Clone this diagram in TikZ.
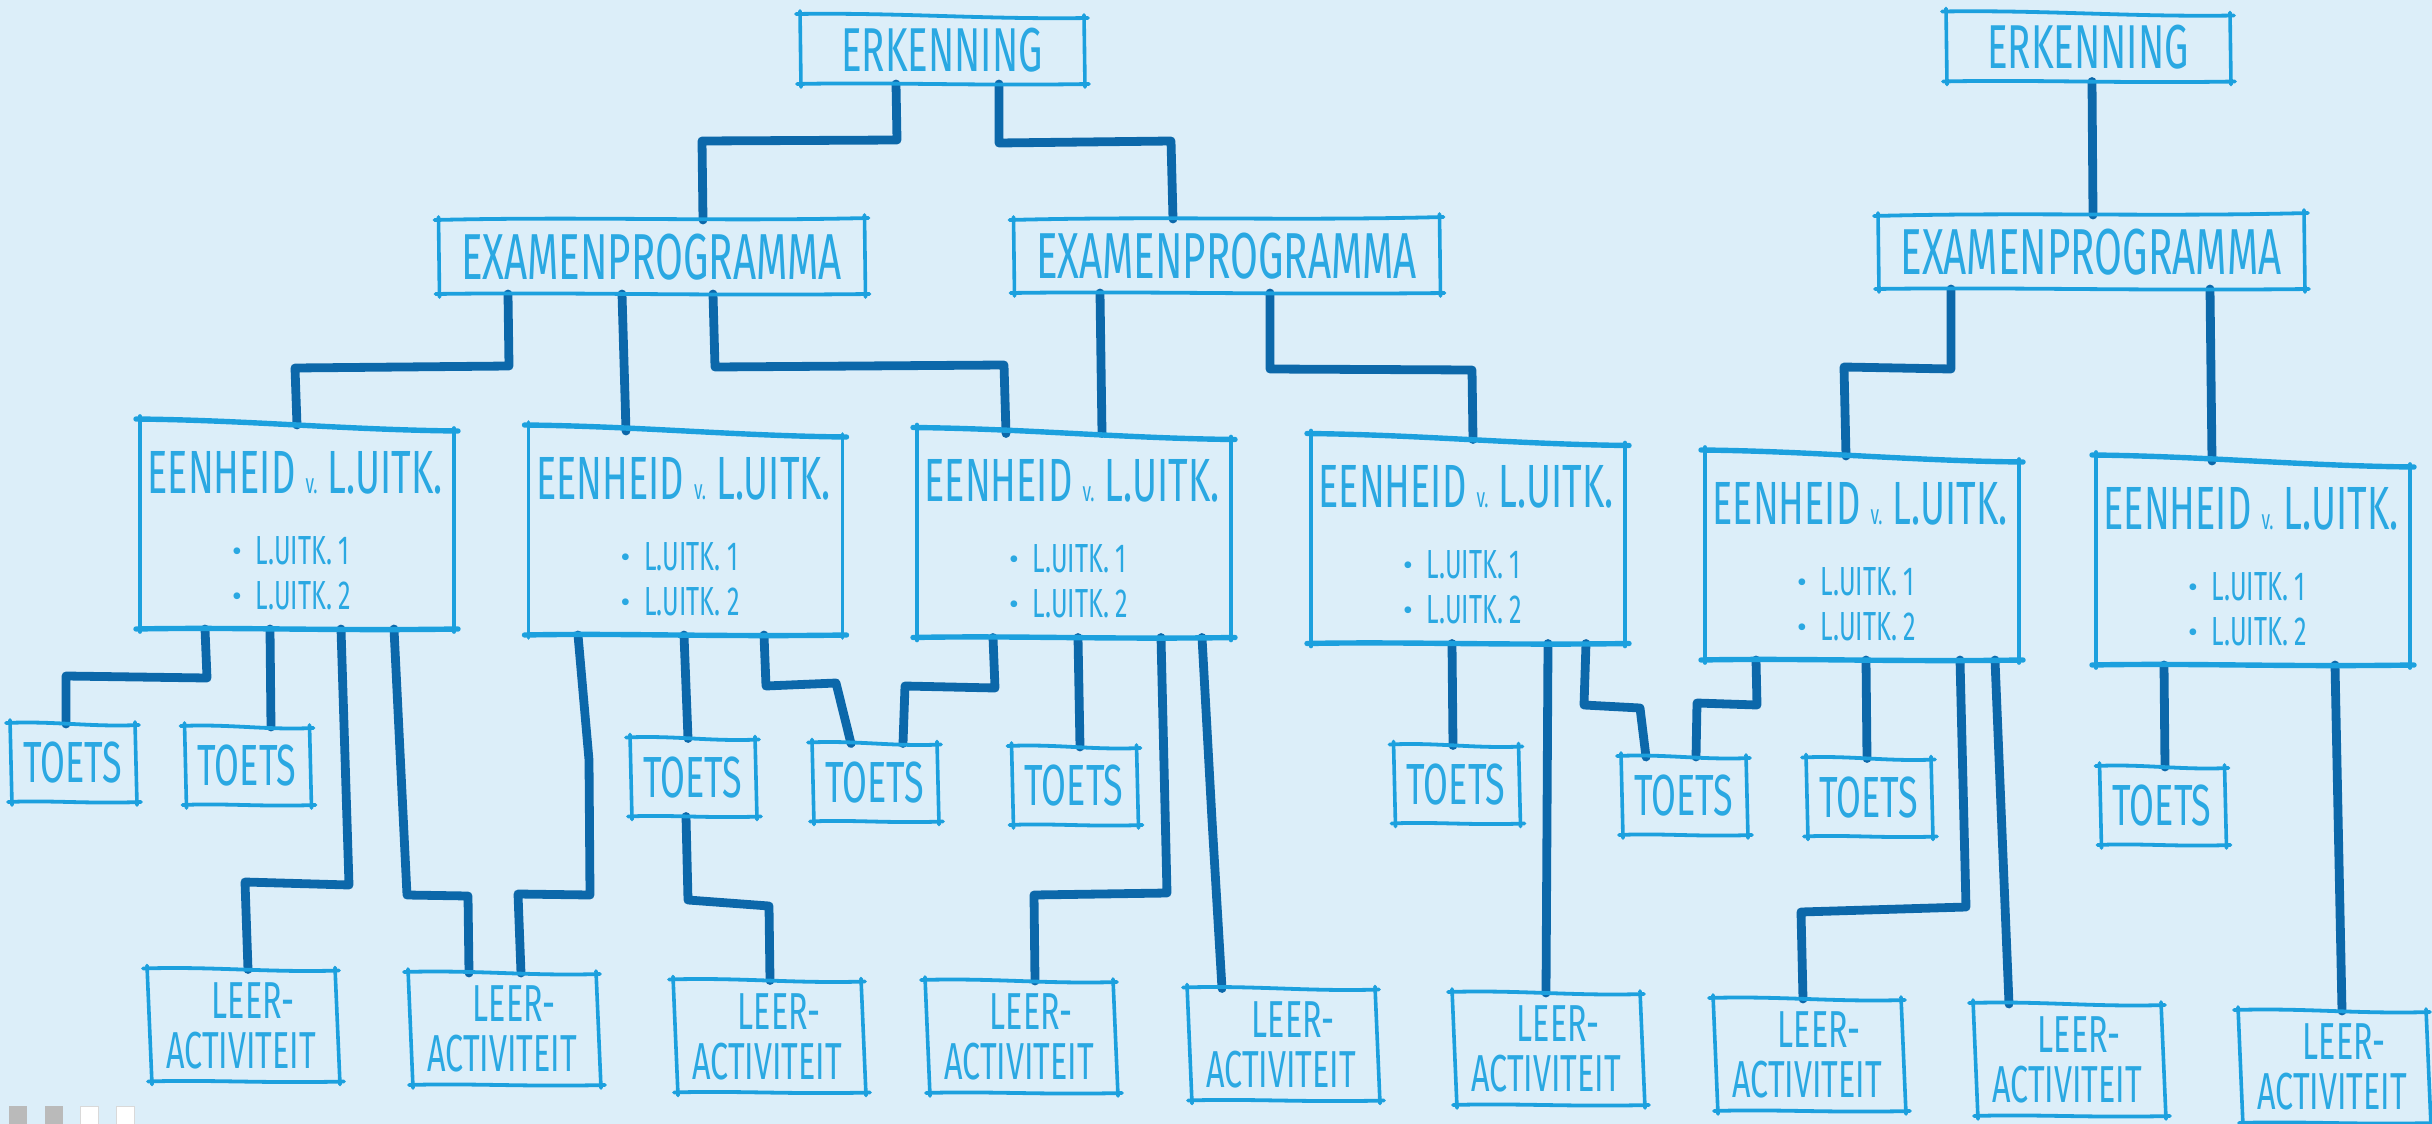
\documentclass[tikz,border=0pt]{standalone}
\usepackage{fontspec}
\usetikzlibrary{calc}
\newfontfamily\hand[FakeStretch=0.62]{Fira Sans}
\newfontfamily\plain{Fira Sans}
\definecolor{bg}{RGB}{220,238,249}
\definecolor{boxcol}{RGB}{28,160,222}
\definecolor{inkcol}{RGB}{42,168,226}
\definecolor{conncol}{RGB}{12,104,170}

\tikzset{
  x=0.5pt, y=-0.5pt,
  base/.style={inner sep=0pt, outer sep=0pt, text=inkcol, align=center},
  erkbox/.style={base, minimum width=142pt, minimum height=34pt, font=\hand\fontsize{31}{31}\selectfont},
  exambox/.style={base, minimum width=213pt, minimum height=37pt, font=\hand\fontsize{32.5}{32.5}\selectfont},
  unitbox/.style={base, minimum width=157pt, minimum height=102pt},
  utitle/.style={base, font=\hand\fontsize{30.5}{30.5}\selectfont},
  ubullet/.style={base, font=\hand\fontsize{20.3}{20.3}\selectfont},
  toetsbox/.style={base, minimum width=62.5pt, minimum height=39pt, font=\hand\fontsize{29}{29}\selectfont},
  leerbox/.style={base, minimum width=94pt, minimum height=56pt, font=\hand\fontsize{26}{25}\selectfont},
  edgeh/.style={draw=boxcol, line width=1.9pt, line cap=round},
  edgev/.style={draw=boxcol, line width=1.8pt, line cap=round},
  conn/.style={draw=conncol, line width=4.4pt, line cap=round, line join=round},
}

% hand-drawn outline around a node: #2/#3 lift of the top corners, #4 lean of the bottom edge
\newcommand\skbox[4]{%
  \coordinate (#1-a) at ([shift={(0,#2)}]#1.north west);
  \coordinate (#1-b) at ([shift={(0,#3)}]#1.north east);
  \coordinate (#1-c) at ([shift={(#4,0)}]#1.south east);
  \coordinate (#1-d) at ([shift={(#4,0)}]#1.south west);
  \draw[edgeh] ([shift={(-4,0)}]#1-a) .. controls ($(#1-a)!0.35!(#1-b)+(0,-3)$) and ($(#1-a)!0.65!(#1-b)+(0,3)$) .. ([shift={(4,0)}]#1-b);
  \draw[edgev] ([shift={(0,-3)}]#1-b) -- ([shift={(0,3)}]#1-c);
  \draw[edgeh] ([shift={(4,0)}]#1-c) .. controls ($(#1-c)!0.4!(#1-d)+(0,2)$) and ($(#1-c)!0.7!(#1-d)+(0,-2)$) .. ([shift={(-4,0)}]#1-d);
  \draw[edgev] ([shift={(0,3)}]#1-d) -- ([shift={(0,-3)}]#1-a);
}

% unit box with its title and two bullet lines
\newcommand\unitnode[2]{%
  \node[unitbox] (#1) at (#2) {};
  \node[utitle, anchor=base] (#1-t) at ([shift={(-2,68)}]#1.north) {EENHEID\,{\fontsize{14}{14}\selectfont v.}\,L.UITK.};
  \node[ubullet, anchor=base west] (#1-p) at ([shift={(92,139)}]#1.north west) {\raisebox{1.5pt}{\plain\fontsize{15}{15}\selectfont\textbullet}\hspace{7pt}L.UITK. 1};
  \node[ubullet, anchor=base west] (#1-q) at ([shift={(92,184)}]#1.north west) {\raisebox{1.5pt}{\plain\fontsize{15}{15}\selectfont\textbullet}\hspace{7pt}L.UITK. 2};
}

\begin{document}
\begin{tikzpicture}
\fill[bg] (0,0) rectangle (2432,1124);
\useasboundingbox (0,0) rectangle (2432,1124);

% top level
\node[erkbox] (E1) at (942,50) {ERKENNING};
\node[erkbox] (E2) at (2088,47.5) {ERKENNING};

% exam programmes
\node[exambox] (X1) at (651.5,257) {EXAMENPROGRAMMA};
\node[exambox] (X2) at (1226.5,256) {EXAMENPROGRAMMA};
\node[exambox] (X3) at (2091,252) {EXAMENPROGRAMMA};

% units of learning outcomes
\unitnode{U1}{297,527}
\unitnode{U2}{685.5,533}
\unitnode{U3}{1074,535.5}
\unitnode{U4}{1468,541.5}
\unitnode{U5}{1862,558}
\unitnode{U6}{2253,563}

% tests
\node[toetsbox] (T1) at (72.5,763) {TOETS};
\node[toetsbox] (T2) at (247,766) {TOETS};
\node[toetsbox] (T3) at (692.5,777.5) {TOETS};
\node[toetsbox] (T4) at (874.5,782.5) {TOETS};
\node[toetsbox] (T5) at (1074,786) {TOETS};
\node[toetsbox] (T6) at (1456,784.5) {TOETS};
\node[toetsbox] (T7) at (1683.5,796) {TOETS};
\node[toetsbox] (T8) at (1868.5,797.5) {TOETS};
\node[toetsbox] (T9) at (2162,806) {TOETS};

% learning activities
\node[leerbox] (L1) at (241,1025.5) {\hspace*{12pt}LEER-\\ACTIVITEIT};
\node[leerbox] (L2) at (502,1029) {\hspace*{12pt}LEER-\\ACTIVITEIT};
\node[leerbox] (L3) at (767,1036.5) {\hspace*{12pt}LEER-\\ACTIVITEIT};
\node[leerbox] (L4) at (1019,1037) {\hspace*{12pt}LEER-\\ACTIVITEIT};
\node[leerbox] (L5) at (1281,1044.5) {\hspace*{12pt}LEER-\\ACTIVITEIT};
\node[leerbox] (L6) at (1546,1049) {\hspace*{12pt}LEER-\\ACTIVITEIT};
\node[leerbox] (L7) at (1807,1055) {\hspace*{12pt}LEER-\\ACTIVITEIT};
\node[leerbox] (L8) at (2067,1060) {\hspace*{12pt}LEER-\\ACTIVITEIT};
\node[leerbox] (L9) at (2332,1067) {\hspace*{12pt}LEER-\\ACTIVITEIT};

% connectors
\draw[conn] (E1.south -| 896,0) -- (897,140) -- (702,141) -- (X1.north -| 703,0);
\draw[conn] (E1.south -| 999,0) -- (999,143) -- (1171,141) -- (X2.north -| 1173,0);
\draw[conn] (E2.south -| 2092,0) -- (X3.north -| 2093,0);

\draw[conn] (X1.south -| 508,0) -- (509,366) -- (295,368) -- (U1.north -| 297,0);
\draw[conn] (X1.south -| 622,0) -- (U2.north -| 626,0);
\draw[conn] (X1.south -| 713,0) -- (715,367) -- (1004,365) -- (U3.north -| 1006,0);
\draw[conn] (X2.south -| 1100,0) -- (U3.north -| 1102,0);
\draw[conn] (X2.south -| 1270,0) -- (1270,369) -- (1472,370) -- (U4.north -| 1473,0);
\draw[conn] (X3.south -| 1951,0) -- (1951,369) -- (1844,367) -- (U5.north -| 1846,0);
\draw[conn] (X3.south -| 2210,0) -- (U6.north -| 2212,0);

\draw[conn] (U1.south -| 205,0) -- (207,678) -- (66,676) -- (T1.north -| 66,0);
\draw[conn] (U1.south -| 270,0) -- (T2.north -| 271,0);
\draw[conn] (U1.south -| 341,0) -- (349,885) -- (245,882) -- (L1.north -| 248,0);
\draw[conn] (U1.south -| 394,0) -- (407,895) -- (468,896) -- (L2.north -| 469,0);

\draw[conn] (U2.south -| 578,0) -- (589,760) -- (590,895) -- (518,894) -- (L2.north -| 521,0);
\draw[conn] (U2.south -| 684,0) -- (T3.north -| 688,0);
\draw[conn] (U2.south -| 764,0) -- (766,686) -- (836,683) -- (T4.north -| 851,0);
\draw[conn] (T3.south -| 686,0) -- (688,900) -- (769,906) -- (L3.north -| 770,0);

\draw[conn] (U3.south -| 993,0) -- (995,688) -- (905,686) -- (T4.north -| 903,0);
\draw[conn] (U3.south -| 1078,0) -- (T5.north -| 1080,0);
\draw[conn] (U3.south -| 1161,0) -- (1167,893) -- (1034,895) -- (L4.north -| 1035,0);
\draw[conn] (U3.south -| 1202,0) -- (1212,820) -- (L5.north -| 1222,0);

\draw[conn] (U4.south -| 1452,0) -- (T6.north -| 1453,0);
\draw[conn] (U4.south -| 1548,0) -- (L6.north -| 1546,0);
\draw[conn] (U4.south -| 1586,0) -- (1584,705) -- (1640,708) -- (T7.north -| 1646,0);

\draw[conn] (U5.south -| 1756,0) -- (1757,705) -- (1697,703) -- (T7.north -| 1696,0);
\draw[conn] (U5.south -| 1866,0) -- (T8.north -| 1867,0);
\draw[conn] (U5.south -| 1960,0) -- (1966,907) -- (1801,912) -- (L7.north -| 1803,0);
\draw[conn] (U5.south -| 1995,0) -- (L8.north -| 2009,0);

\draw[conn] (U6.south -| 2164,0) -- (T9.north -| 2165,0);
\draw[conn] (U6.south -| 2335,0) -- (L9.north -| 2342,0);

% outlines
\skbox{E1}{-2}{2}{1}
\skbox{E2}{-2}{2}{1}
\skbox{X1}{0}{-2}{1}
\skbox{X2}{1}{-2}{1}
\skbox{X3}{1}{-2}{1}
\begin{scope}[edgeh/.style={draw=boxcol, line width=2.7pt, line cap=round}]
  \skbox{U1}{-6}{6}{0}
  \skbox{U2}{-6}{6}{0}
  \skbox{U3}{-6}{6}{0}
  \skbox{U4}{-6}{6}{0}
  \skbox{U5}{-6}{6}{0}
  \skbox{U6}{-6}{6}{0}
\end{scope}
\foreach \t in {T1,T2,T3,T4,T5,T6,T7,T8,T9} {\skbox{\t}{-1}{1}{2}}
\foreach \l in {L1,L2,L3,L4,L5,L6,L7,L8,L9} {\skbox{\l}{-1}{1}{5}}

% page markers in the lower left corner
\fill[black!27] (9,1106) rectangle (27,1124);
\fill[black!27] (45,1106) rectangle (63,1124);
\filldraw[fill=white, draw=black!15, line width=0.5pt] (80,1106) rectangle (98,1124);
\filldraw[fill=white, draw=black!15, line width=0.5pt] (116,1106) rectangle (134,1124);
\end{tikzpicture}
\end{document}
